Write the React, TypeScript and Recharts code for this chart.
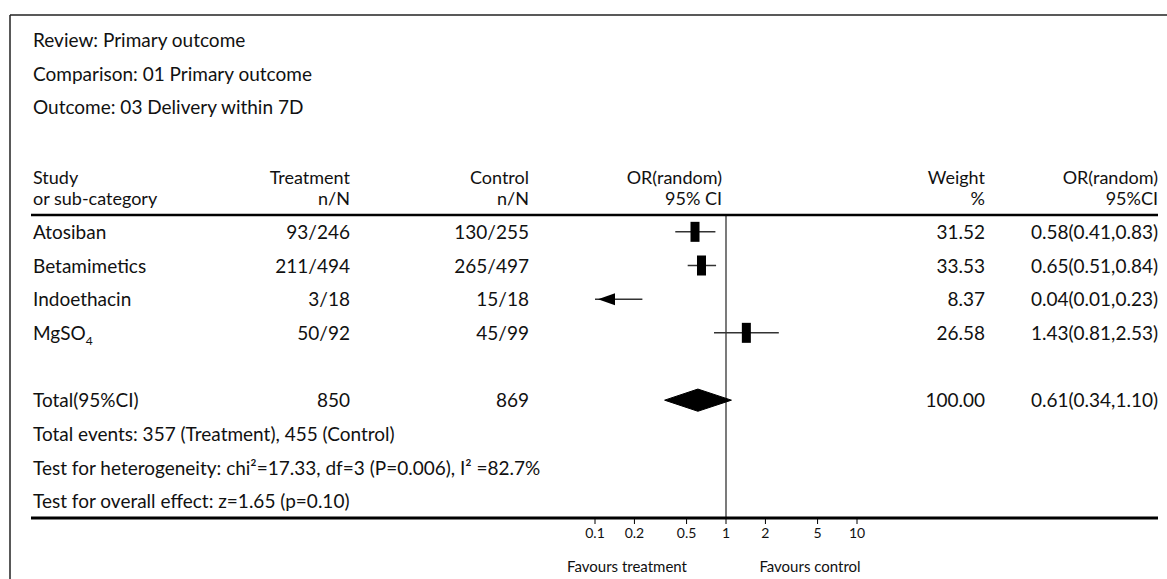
import { ScatterChart, Scatter, XAxis, YAxis, ReferenceLine } from 'recharts';

const FONT = 'Lato, "DejaVu Sans", sans-serif';
const SIZE = 19;

// studies
const studies = ['Atosiban', 'Betamimetics', 'Indoethacin', 'MgSO4'];
const studyRows = [0, 1, 2, 3];
const treatment = ['93/246', '211/494', '3/18', '50/92'];
const control = ['130/255', '265/497', '15/18', '45/99'];
const oddsRatio = [0.58, 0.65, 0.04, 1.43];
const ciLow = [0.41, 0.51, 0.01, 0.81];
const ciHigh = [0.83, 0.84, 0.23, 2.53];
const weight = [31.52, 33.53, 8.37, 26.58];

// pooled
const totalRow = 5;
const totalLabel = 'Total(95%CI)';
const totalTreatment = '850';
const totalControl = '869';
const totalOr = 0.61;
const totalLow = 0.34;
const totalHigh = 1.1;
const totalWeight = 100.0;

const footerRows = [6, 7, 8];
const footerText = [
    'Total events: 357 (Treatment), 455 (Control)',
    'Test for heterogeneity: chi\u00B2=17.33, df=3 (P=0.006), I\u00B2 =82.7%',
    'Test for overall effect: z=1.65 (p=0.10)',
];

const xDomain = [0.1, 10];
const xTicks = [0.1, 0.2, 0.5, 1, 2, 5, 10];
const xTickLabels = ['0.1', '0.2', '0.5', '1', '2', '5', '10'];

const fmtCi = (o: number, l: number, h: number) => `${o.toFixed(2)}(${l.toFixed(2)},${h.toFixed(2)})`;

const boxes = studyRows
    .filter((i) => oddsRatio[i] >= xDomain[0] && oddsRatio[i] <= xDomain[1])
    .map((i) => ({ x: oddsRatio[i], y: i }));

const arrows = studyRows
    .filter((i) => ciLow[i] < xDomain[0])
    .map((i) => ({ x: xDomain[0], y: i }));

const diamondHalf = 0.33;
const diamond = [
    { x: totalLow, y: totalRow },
    { x: totalOr, y: totalRow - diamondHalf },
    { x: totalHigh, y: totalRow },
    { x: totalOr, y: totalRow + diamondHalf },
    { x: totalLow, y: totalRow },
];

const Box = (props: any) => {
    const { cx, cy } = props;
    return <rect x={cx - 4.5} y={cy - 10} width={9} height={20} fill="#000" />;
};

const Arrow = (props: any) => {
    const { cx, cy } = props;
    return <path d={`M${cx + 3},${cy} L${cx + 20},${cy - 6} L${cx + 20},${cy + 6} Z`} fill="#000" />;
};

const COL = { name: 33, treat: 350, ctrl: 529, weight: 985, ci: 1158 };

const RowTick = (props: any) => {
    const { y, payload } = props;
    const row = payload.value;
    const ty = y + 7;
    const common = { fontFamily: FONT, fontSize: SIZE, fill: '#111' };
    const fi = footerRows.indexOf(row);
    if (fi >= 0) {
        return (
            <text x={COL.name} y={ty} {...common}>
                {footerText[fi]}
            </text>
        );
    }
    let name: string, tr: string, ct: string, w: string, ci: string;
    if (row === totalRow) {
        name = totalLabel;
        tr = totalTreatment;
        ct = totalControl;
        w = totalWeight.toFixed(2);
        ci = fmtCi(totalOr, totalLow, totalHigh);
    } else {
        const i = studyRows.indexOf(row);
        name = studies[i];
        tr = treatment[i];
        ct = control[i];
        w = weight[i].toFixed(2);
        ci = fmtCi(oddsRatio[i], ciLow[i], ciHigh[i]);
    }
    const sub = name.match(/^(.*O)(\d)$/);
    return (
        <g>
            <text x={COL.name} y={ty} {...common}>
                {sub ? (
                    <>
                        {sub[1]}
                        <tspan dy={5} fontSize={12}>
                            {sub[2]}
                        </tspan>
                    </>
                ) : (
                    name
                )}
            </text>
            <text x={COL.treat} y={ty} textAnchor="end" {...common}>
                {tr}
            </text>
            <text x={COL.ctrl} y={ty} textAnchor="end" {...common}>
                {ct}
            </text>
            <text x={COL.weight} y={ty} textAnchor="end" {...common}>
                {w}
            </text>
            <text x={COL.ci} y={ty} textAnchor="end" {...common}>
                {ci}
            </text>
        </g>
    );
};

export default function App() {
    const t = { fontFamily: FONT, fontSize: SIZE, fill: '#111' };
    const hd = { fontFamily: FONT, fontSize: 18, fill: '#111' };
    const h1 = 184;
    const h2 = 205;
    return (
        <div style={{ position: 'absolute', left: 0, top: 0, width: 1167, height: 579, background: '#fff' }}>
            <ScatterChart width={1167} height={579} margin={{ top: 215, right: 310, bottom: 31, left: 0 }}>
                <XAxis
                    type="number"
                    dataKey="x"
                    scale="log"
                    domain={xDomain}
                    allowDataOverflow
                    ticks={xTicks}
                    interval={0}
                    tickFormatter={(v) => xTickLabels[xTicks.indexOf(v)]}
                    axisLine={false}
                    tickLine={{ stroke: '#000' }}
                    tickSize={6}
                    tickMargin={4}
                    height={30}
                    tick={{ fontSize: 14, fill: '#111', fontFamily: FONT }}
                />
                <YAxis
                    type="number"
                    dataKey="y"
                    domain={[-0.5, 8.5]}
                    reversed
                    allowDataOverflow
                    ticks={[...studyRows, totalRow, ...footerRows]}
                    interval={0}
                    width={595}
                    axisLine={false}
                    tickLine={false}
                    tick={(p: any) => <RowTick {...p} />}
                />
                <ReferenceLine x={1} stroke="#222" strokeWidth={1.2} />
                {studyRows.map((i) => (
                    <ReferenceLine
                        key={studies[i]}
                        segment={[
                            { x: ciLow[i], y: i },
                            { x: ciHigh[i], y: i },
                        ]}
                        ifOverflow="hidden"
                        stroke="#333"
                        strokeWidth={1.5}
                    />
                ))}
                <Scatter data={boxes} shape={Box} isAnimationActive={false} />
                <Scatter data={arrows} shape={Arrow} isAnimationActive={false} />
                <Scatter
                    data={diamond}
                    shape={() => <g />}
                    line={{ fill: '#000', stroke: '#000', strokeWidth: 1 }}
                    isAnimationActive={false}
                />
            </ScatterChart>
            <svg width={1167} height={579} style={{ position: 'absolute', left: 0, top: 0, pointerEvents: 'none' }}>
                <line x1={10} y1={15} x2={1167} y2={15} stroke="#222" strokeWidth={1.5} />
                <line x1={10} y1={15} x2={10} y2={579} stroke="#222" strokeWidth={1.5} />
                <line x1={31} y1={215} x2={1158} y2={215} stroke="#000" strokeWidth={2.5} />
                <line x1={31} y1={518} x2={1158} y2={518} stroke="#000" strokeWidth={3} />

                <text x={33} y={47} {...t}>Review: Primary outcome</text>
                <text x={33} y={81} {...t}>Comparison: 01 Primary outcome</text>
                <text x={33} y={114} {...t}>Outcome: 03 Delivery within 7D</text>

                <text x={33} y={h1} {...hd}>Study</text>
                <text x={33} y={h2} {...hd}>or sub-category</text>
                <text x={COL.treat} y={h1} textAnchor="end" {...hd}>Treatment</text>
                <text x={COL.treat} y={h2} textAnchor="end" {...hd}>n/N</text>
                <text x={COL.ctrl} y={h1} textAnchor="end" {...hd}>Control</text>
                <text x={COL.ctrl} y={h2} textAnchor="end" {...hd}>n/N</text>
                <text x={722} y={h1} textAnchor="end" {...hd}>OR(random)</text>
                <text x={722} y={h2} textAnchor="end" {...hd}>95% CI</text>
                <text x={COL.weight} y={h1} textAnchor="end" {...hd}>Weight</text>
                <text x={COL.weight} y={h2} textAnchor="end" {...hd}>%</text>
                <text x={COL.ci} y={h1} textAnchor="end" {...hd}>OR(random)</text>
                <text x={COL.ci} y={h2} textAnchor="end" {...hd}>95%CI</text>

                <text x={627} y={572} textAnchor="middle" fontFamily={FONT} fontSize={15} fill="#111">Favours treatment</text>
                <text x={810} y={572} textAnchor="middle" fontFamily={FONT} fontSize={15} fill="#111">Favours control</text>
            </svg>
        </div>
    );
}
